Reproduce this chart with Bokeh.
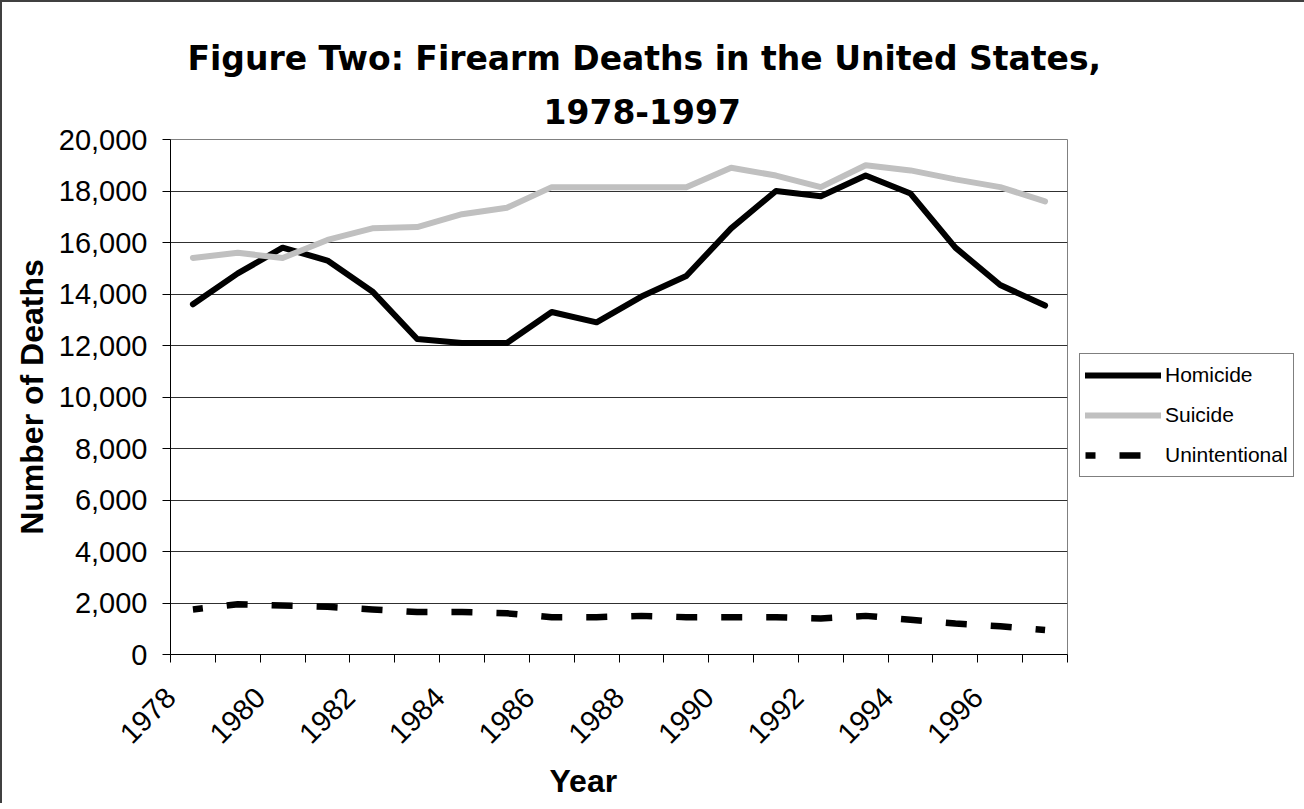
import math
from bokeh.plotting import figure
from bokeh.models import (Range1d, FixedTicker, NumeralTickFormatter, Legend, LegendItem,
                          ColumnDataSource, Title)
from bokeh.embed import file_html
from bokeh.resources import INLINE

# ---- data ----
years = list(range(1978, 1998))
homicide = [13600, 14800, 15800, 15300, 14100, 12250, 12100, 12100, 13300, 12900,
            13900, 14700, 16550, 18000, 17800, 18600, 17900, 15800, 14350, 13550]
suicide = [15400, 15600, 15400, 16100, 16550, 16600, 17100, 17350, 18150, 18150,
           18150, 18150, 18900, 18600, 18150, 19000, 18800, 18450, 18150, 17600]
unintentional = [1750, 1950, 1900, 1850, 1750, 1650, 1650, 1600, 1450, 1450,
                 1500, 1450, 1450, 1450, 1400, 1500, 1350, 1200, 1100, 950]
tick_years = list(range(1978, 1999))
label_years = list(range(1978, 1997, 2))
title_line1 = "Figure Two:  Firearm Deaths in the United States,"
title_line2 = "1978-1997"
x_title = "Year"
y_title = "Number of Deaths"

FONT = "Liberation Sans"
TFONT = "DejaVu Sans"

# points sit in the middle of each year's category slot
xs = [y + 0.5 for y in years]
src = ColumnDataSource(dict(x=xs, hom=homicide, sui=suicide, uni=unintentional))

p = figure(frame_width=897, frame_height=515, output_backend="svg", toolbar_location=None,
           x_range=Range1d(1978, 1998), y_range=Range1d(0, 20000), title=None,
           min_border_left=168, min_border_right=220, min_border_top=137,
           min_border_bottom=130, background_fill_color="white",
           border_fill_color="white")
p.styles = {"border-left": "2px solid #404040", "border-top": "2px solid #404040"}

for txt, so, off in [(title_line2, 31, 373), (title_line1, 7, 17)]:
    t = Title(text=txt, align="left", offset=off, text_font=TFONT,
              text_font_size="33px", text_font_style="bold", text_color="black",
              standoff=so)
    p.add_layout(t, "above")

p.outline_line_color = "#808080"
p.outline_line_width = 1

p.xgrid.visible = False
p.ygrid.grid_line_color = "#303030"
p.ygrid.grid_line_width = 1
p.ygrid.ticker = FixedTicker(ticks=list(range(0, 20001, 2000)))

xa = p.xaxis[0]
xa.ticker = FixedTicker(ticks=tick_years)
xa.major_label_overrides = {y: (str(y) if y in label_years else "") for y in tick_years}
xa.major_label_orientation = math.pi / 4
xa.major_label_text_font = FONT
xa.major_label_text_font_size = "29px"
xa.major_label_text_color = "black"
xa.major_tick_out = 8
xa.major_tick_in = 0
xa.minor_tick_out = 0
xa.minor_tick_in = 0
xa.axis_line_color = "black"
xa.major_tick_line_color = "black"
xa.major_label_standoff = 30

# x-axis title, placed slightly left of the frame centre as in the reference
xt = Title(text=x_title, align="left", offset=379, text_font=FONT,
           text_font_size="32px", text_font_style="bold", text_color="black",
           standoff=10)
p.add_layout(xt, "below")

ya = p.yaxis[0]
ya.ticker = FixedTicker(ticks=list(range(0, 20001, 2000)))
ya.formatter = NumeralTickFormatter(format="0,0")
ya.major_label_text_font = FONT
ya.major_label_text_font_size = "29px"
ya.major_label_text_color = "black"
ya.major_tick_out = 8
ya.major_tick_in = 0
ya.minor_tick_out = 0
ya.minor_tick_in = 0
ya.axis_line_color = "black"
ya.major_tick_line_color = "black"
ya.major_label_standoff = 15
ya.axis_label = y_title
ya.axis_label_text_font = FONT
ya.axis_label_text_font_size = "32px"
ya.axis_label_text_font_style = "bold"
ya.axis_label_text_color = "black"
ya.axis_label_standoff = 6

r_hom = p.line("x", "hom", source=src, line_color="black", line_width=6,
               line_cap="round", line_join="round")
r_sui = p.line("x", "sui", source=src, line_color="#C0C0C0", line_width=6,
               line_cap="round", line_join="round")
r_uni = p.line("x", "uni", source=src, line_color="black", line_width=6.5,
               line_dash="21 24", line_dash_offset=11, line_cap="butt")

legend = Legend(items=[LegendItem(label="Homicide", renderers=[r_hom]),
                       LegendItem(label="Suicide", renderers=[r_sui]),
                       LegendItem(label="Unintentional", renderers=[r_uni])],
                location=(12, 177), orientation="vertical")
legend.label_text_font = FONT
legend.label_text_font_size = "21px"
legend.label_text_color = "black"
legend.glyph_width = 76
legend.glyph_height = 32
legend.label_height = 32
legend.label_standoff = 4
legend.spacing = 8
legend.padding = 5
legend.margin = 0
legend.border_line_color = "black"
legend.border_line_width = 1
legend.background_fill_color = "white"
p.add_layout(legend, "right")

open("out.html", "w").write(file_html(p, INLINE))
